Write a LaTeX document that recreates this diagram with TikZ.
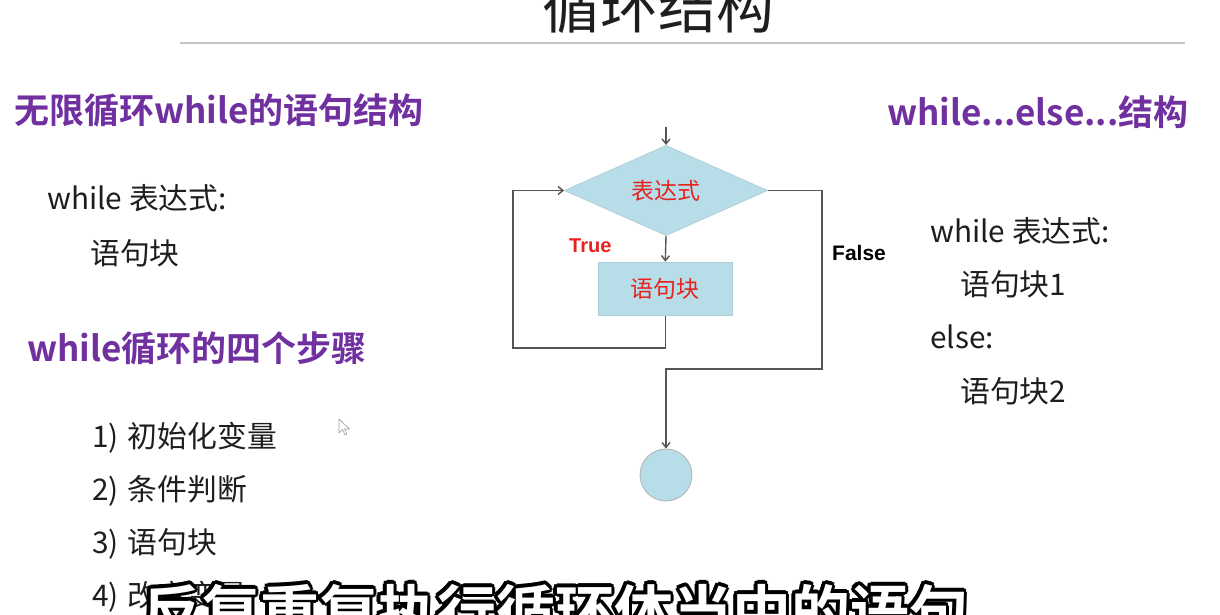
\documentclass[tikz,border=0pt]{standalone}
\usepackage{fontspec}
\setmainfont{Noto Sans CJK SC}[BoldFont={Noto Sans CJK SC Bold}]
\newfontfamily\arialfont{Liberation Sans}
\usetikzlibrary{arrows.meta,shapes.geometric}
\definecolor{headpurple}{HTML}{7030A0}
\definecolor{flowred}{HTML}{E8221E}
\definecolor{flowfill}{HTML}{B7DDE8}
\definecolor{linegray}{HTML}{555555}
\definecolor{inkblack}{HTML}{1E1E1E}

\begin{document}
\begin{tikzpicture}[x=1pt,y=-1pt,
  txt/.style={anchor=base west, inner sep=0pt, text=inkblack, font=\fontsize{29.8}{32}\selectfont},
  head/.style={anchor=base west, inner sep=0pt, text=headpurple, font=\bfseries\fontsize{35}{38}\selectfont},
  flow/.style={draw=linegray, line width=1.4pt, -{Straight Barb[length=5pt,width=8pt]}},
  shapebox/.style={fill=flowfill, draw=flowfill!85!gray, line width=0.8pt, inner sep=0pt,
                   text=flowred, font=\fontsize{23}{25}\selectfont},
  tag/.style={anchor=base west, inner sep=0pt, font=\arialfont\bfseries\fontsize{20}{22}\selectfont},
  caption/.style={anchor=base, inner sep=0pt, font=\bfseries\fontsize{59}{62}\selectfont}
]
\useasboundingbox (0,0) rectangle (1220,615);
\clip (0,0) rectangle (1220,615);
\fill[white] (0,0) rectangle (1220,615);

% page title and rule
\node[anchor=base, inner sep=0pt, text=inkblack, font=\fontsize{58}{60}\selectfont] (title) at (658,29) {循环结构};
\coordinate (ruleL) at (180,43);
\coordinate (ruleR) at (1185,43);
\draw[gray!45, line width=1.4pt] (ruleL) -- (ruleR);

% left column
\node[head] (h1) at (14,124) {无限循环while的语句结构};
\node[txt] (w1) at (47,209) {while 表达式:};
\node[txt] (b1) at (90,264) {语句块};
\node[head] (h2) at (27,361) {while循环的四个步骤};
\node[txt] (s1) at (92,447) {1)\hspace{9pt}初始化变量};
\node[txt] (s2) at (92,500) {2)\hspace{9pt}条件判断};
\node[txt] (s3) at (92,553) {3)\hspace{9pt}语句块};
\node[txt] (s4) at (92,606) {4)\hspace{9pt}改变变量};

% mouse pointer
\draw[gray!80, fill=white, line width=0.6pt, line join=round]
  (339,419) -- ++(0,14) -- ++(3.5,-3.5) -- ++(2.5,5.5) -- ++(2,-1) -- ++(-2.5,-5) -- ++(5,0) -- cycle;

% right column
\node[head] (h3) at (887,125) {while...else...结构};
\node[txt] (w2) at (930,242) {while 表达式:};
\node[txt] (b2) at (960,295) {语句块1};
\node[txt] (e2) at (930,348) {else:};
\node[txt] (b3) at (960,402) {语句块2};

% flowchart
\node[shapebox, diamond, minimum width=203pt, minimum height=88pt] (cond) at (666,190.5) {表达式};
\node[shapebox, rectangle, minimum width=134pt, minimum height=53pt] (body) at (665.3,288.6) {语句块};
\node[shapebox, circle, draw=gray!60, minimum size=52pt] (stop) at (666,475) {};
\coordinate (entry) at (666,127);
\coordinate (loopL) at (513,348);
\coordinate (falseR) at (822,369);

\draw[flow] (entry) -- (cond.north);
\draw[flow] (cond.south) -- (body.north);
\draw[flow] (body.south) |- (loopL) |- (cond.west);
\draw[flow] (cond.east) -| (falseR) -| (stop.north);

\node[tag, text=flowred] (ttrue) at (569,252) {True};
\node[tag, text=black, font=\arialfont\bfseries\fontsize{21}{23}\selectfont] (tfalse) at (832,260) {False};

% outlined subtitle along the bottom edge
\foreach \a in {0,22.5,...,337.5}
  \path (555,634) ++(\a:3.2) node[caption, text=black] {反复重复执行循环体当中的语句};
\node[caption, text=white] (sub) at (555,634) {反复重复执行循环体当中的语句};
\end{tikzpicture}
\end{document}
